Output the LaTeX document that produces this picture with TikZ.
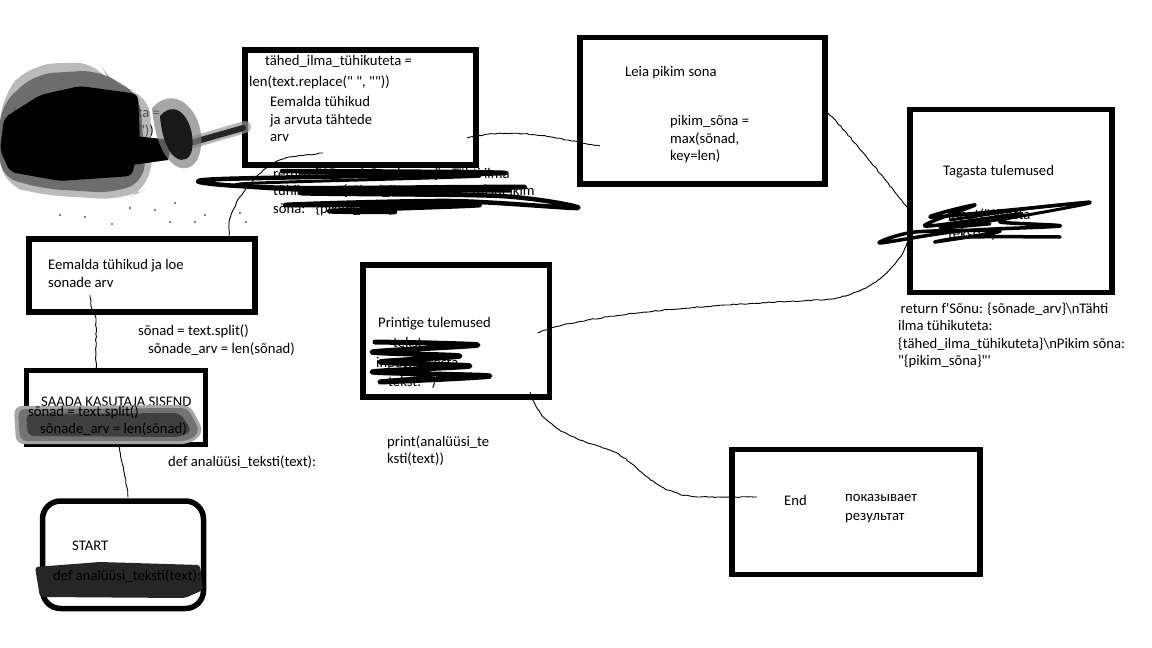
\documentclass[tikz,border=0pt]{standalone}
\usepackage{fontspec}
\newfontfamily\paintfont{Carlito}
\usetikzlibrary{decorations.pathmorphing}
\tikzset{
  box/.style={draw, line width=5.5pt, outer sep=0pt, inner sep=0pt},
  txt/.style={anchor=north west, inner sep=0pt, align=left,
    font=\paintfont\fontsize{14.67}{17.5}\selectfont, execute at begin node=\strut},
  wire/.style={line width=0.9pt, decorate,
    decoration={random steps, segment length=3pt, amplitude=0.5pt}},
  scribble/.style={line width=4.5pt, line cap=round, line join=round},
}
\pgfmathsetseed{7}
\begin{document}
\begin{tikzpicture}[x=1pt,y=-1pt]
  \useasboundingbox (0,0) rectangle (1152,648);
  % boxes
  \node[box, minimum width=231, minimum height=115] (tahed) at (360.5,107.5) {};
  \node[box, minimum width=245, minimum height=146.5] (leia) at (702.5,110.75) {};
  \node[box, minimum width=202, minimum height=183] (tagasta) at (1011,201) {};
  \node[box, minimum width=226, minimum height=73] (loe) at (142,275.5) {};
  \node[box, minimum width=179, minimum height=74] (saada) at (116,407.5) {};
  \node[box, minimum width=186.5, minimum height=132] (printige) at (456,331) {};
  \node[box, rounded corners=18pt, minimum width=161, minimum height=107.5] (start) at (123,554.75) {};
  \node[box, minimum width=248, minimum height=125] (lopp) at (856,512) {};
  % connectors
  \draw[wire] ([shift={(5,-4)}]start.north) .. controls (127,478) and (119,458) .. ([shift={(2,-16.5)}]saada.south);
  \draw[wire] ([shift={(-20,2.5)}]saada.north) -- (96,318) -- (91,306) -- ([shift={(-52,-17)}]loe.south);
  \draw[wire] ([shift={(87,3)}]loe.north) -- (229,222) .. controls (233,200) and (262,162) .. (290,157) -- ([shift={(-37.5,-12)}]tahed.south);
  \draw[wire] ([shift={(-9,30.5)}]tahed.east) .. controls (520,126) and (560,140) .. ([shift={(20,35.25)}]leia.west);
  \draw[wire] ([shift={(3,2.25)}]leia.east) .. controls (850,135) and (885,180) .. ([shift={(-3,6)}]tagasta.west);
  \draw[wire] ([shift={(-3,42)}]tagasta.west) .. controls (895,275) and (860,298) .. (820,300)
    .. controls (700,305) and (580,315) .. ([shift={(-11.5,2)}]printige.east);
  \draw[wire] ([shift={(74,-5)}]printige.south) .. controls (540,430) and (580,440) .. (610,450)
    .. controls (640,462) and (650,495) .. (700,497) -- ([shift={(25,-15)}]lopp.west);
  % texts
  \node[txt] (t1) at (265,53.5) {tähed\_ilma\_tühikuteta =};
  \node[txt] (t2) at (249,74.5) {len(text.replace(" ", ""))};
  \node[txt] (t3) at (270,96.5) {Eemalda tühikud\\ja arvuta tähtede\\arv};
  \node[txt] (t4) at (273,167.5) {return f'Sõnu: \{sõnade\_arv\}\textbackslash nTähti ilma\\tühikuteta: \{tähed\_ilma\_tühikuteta\}\textbackslash nPikim\\sõna: "\{pikim\_sõna\}"'};
  \node[txt] (t5) at (625,64.5) {Leia pikim sona};
  \node[txt] (t6) at (670,115.5) {pikim\_sõna =\\max(sõnad,\\key=len)};
  \node[txt] (t7) at (943,163.5) {Tagasta tulemused};
  \node[txt] (t8) at (948,208.5) {input("Sisesta\\[2pt]tekst: ")};
  \node[txt] (t9) at (898,302.5) {\,return f'Sõnu: \{sõnade\_arv\}\textbackslash nTähti\\ilma tühikuteta:\\\{tähed\_ilma\_tühikuteta\}\textbackslash nPikim sõna:\\"\{pikim\_sõna\}"'};
  \node[txt] (t10) at (48,259.5) {Eemalda tühikud ja loe\\sonade arv};
  \node[txt] (t11) at (138,323.5) {sõnad = text.split()};
  \node[txt] (t12) at (148,341.5) {sõnade\_arv = len(sõnad)};
  \node[txt] (t27) at (41,394.5) {SAADA KASUTAJA SISEND};
  \node[txt] (t13) at (378,315.5) {Printige tulemused};
  \node[txt] (t14) at (387,435.5) {print(analüüsi\_te\\ksti(text))};
  \node[txt] (t15) at (168,454.5) {def analüüsi\_teksti(text):};
  \node[txt] (t16) at (72,538.5) {START};
  \node[txt] (t17) at (784,493.5) {End};
  \node[txt] (t18) at (845,494.5) {показывает\\[1.5pt]результат};
  \node[txt] (t19) at (13,107.5) {tähed\_ilma\_tühikuteta =\\len(text.replace(" ", ""))};
  \node[txt] (t20) at (30,144.5) {pikim\_sõna = max(sõnad,\\key=len)};
  % smears
  \fill[black!35, rounded corners=8pt] (14,406) -- (190,405) -- (204,432) -- (190,444) -- (16,444) -- cycle;
  \fill[black!55, rounded corners=7pt] (18,409) -- (188,408) -- (200,432) -- (188,441) -- (20,441) -- cycle;
  \fill[black!75, rounded corners=6pt] (26,414) -- (180,413) -- (192,431) -- (180,437) -- (28,436) -- cycle;
  \fill[black!85, rounded corners=3pt] (35,567) -- (100,562) -- (200,565) -- (203,590) -- (185,598) -- (40,597) -- cycle;
  \node[txt] (t21) at (28,404.5) {sõnad = text.split()};
  \node[txt] (t22) at (40,421.5) {sõnade\_arv = len(sõnad)};
  \node[txt] (t23) at (53,568.5) {def analüüsi\_teksti(text):};
  \node[txt] (t24) at (393,335.5) {tekst =};
  \node[txt] (t25) at (376,355.5) {input("Sisesta};
  \node[txt] (t26) at (388,374.5) {tekst: ")};
  % scribbles
  \draw[scribble] plot[smooth, tension=0.5] coordinates {(282,171) (505,173) (222,179) (213,184) (300,188) (525,187) (300,193) (500,196) (578,208) (450,201) (285,205) (480,205) (330,211) (395,212)};
  \draw[scribble, line width=3pt] plot[smooth, tension=0.5] coordinates {(300,173) (480,176) (240,184) (320,191) (510,191)};
  \draw[scribble, line width=3.5pt] plot[smooth, tension=0.5] coordinates {(1090,202) (1010,210) (930,217) (975,205) (925,226) (1020,214) (1000,222) (1060,226) (960,231) (880,243) (915,232) (1000,231) (935,242) (970,237) (1060,237)};
  \draw[scribble, line width=3pt] plot[smooth, tension=0.5] coordinates {(950,220) (1040,207) (1090,203) (1010,218) (940,228) (990,224)};
  \draw[scribble, line width=5pt] plot[smooth, tension=0.5] coordinates {(375,342) (478,345) (372,352) (460,356) (380,362) (470,366) (372,372) (490,376) (380,382) (430,378)};
  % top left blob
  \fill[black!45, opacity=0.6, rounded corners=25pt] (0,98) -- (30,64) -- (100,62) -- (112,88) -- (150,92) -- (152,186) -- (125,200) -- (40,195) -- (0,184) -- cycle;
  \fill[black!70, opacity=0.7, rounded corners=18pt] (0,106) -- (35,74) -- (98,70) -- (140,95) -- (146,180) -- (115,193) -- (45,189) -- (0,177) -- cycle;
  \fill[black, rounded corners=6pt] (4,118) -- (40,95) -- (80,86) -- (138,94) -- (140,140) -- (132,176) -- (60,181) -- (10,172) -- (0,150) -- cycle;
  \fill[black] (125,135) -- (172,140) -- (168,160) -- (125,166) -- cycle;
  \draw[black!40, opacity=0.7, line width=12pt, line cap=round] (180,146) -- (245,127);
  \draw[black!85, line width=6pt, line cap=round] (180,146) -- (243,128);
  \fill[black!50, opacity=0.7] (152,108) .. controls (178,80) and (208,118) .. (200,152) .. controls (194,180) and (158,176) .. (152,108);
  \fill[black!90] (160,116) .. controls (178,96) and (196,124) .. (192,150) .. controls (188,168) and (164,164) .. (160,116);
  \foreach \px/\py in {60/215,85/217,130/208,155/210,175/203,170/222,195/222,205/215,240/213,246/222,112/224}
    \fill (\px,\py) circle (0.9);
\end{tikzpicture}
\end{document}
